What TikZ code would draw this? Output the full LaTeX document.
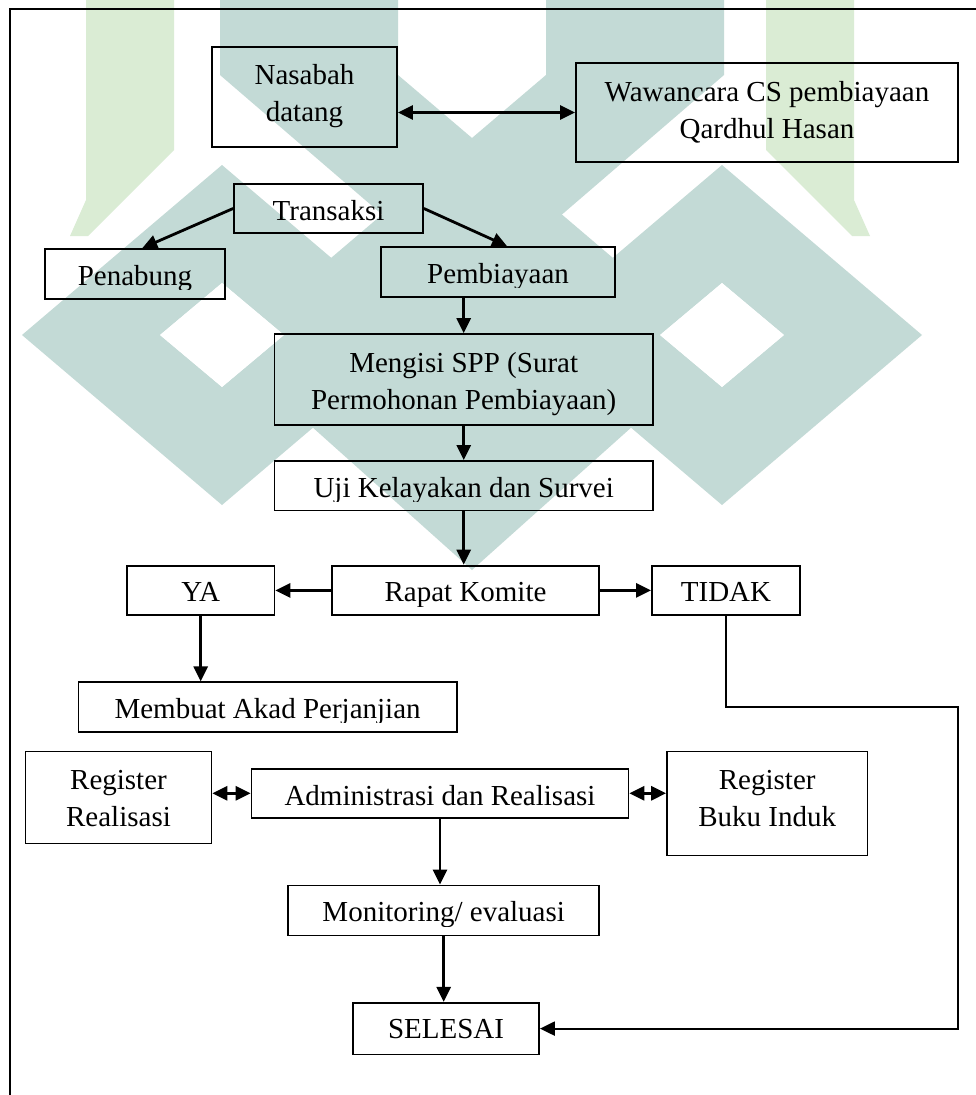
\documentclass[tikz,border=0pt]{standalone}
\usepackage{fontspec}
\setmainfont{Liberation Serif}
\usetikzlibrary{arrows.meta,calc}
\definecolor{wmteal}{RGB}{195,218,214}
\definecolor{wmgreen}{RGB}{218,236,212}
\newcommand{\boxlabel}[3]{%
  \begin{scope}
    \clip ($(#1.south west)+(0pt,10pt)$) rectangle (#1.north east);
    \node[txt, anchor=base] (#2) at ($(#1.north)+(0pt,-37pt)$) {#3};
  \end{scope}}
\begin{document}
\begin{tikzpicture}[x=1pt,y=-1pt,
  box/.style={draw, line width=1.8pt, inner sep=0pt},
  txt/.style={font=\fontsize{29pt}{37pt}\selectfont, inner sep=0pt},
  arr/.style={line width=2.8pt, -{Triangle[length=15pt,width=14pt]}},
  darr/.style={line width=2.8pt, {Triangle[length=15pt,width=14pt]}-{Triangle[length=15pt,width=14pt]}},
  frame/.style={line width=2.2pt},
  wmt/.style={fill=wmteal, draw=none},
  wmg/.style={fill=wmgreen, draw=none}]
\useasboundingbox (0,0) rectangle (976,1095);
\fill[white] (0,0) rectangle (976,1095);

% faint background watermark
\fill[wmg] (86,0) -- (174,0) -- (174,150) -- (88,236) -- (70,236) -- (86,200) -- cycle;
\fill[wmg] (854,0) -- (766,0) -- (766,150) -- (852,236) -- (870,236) -- (854,200) -- cycle;
\fill[wmt] (220,0) -- (398,0) -- (398,75) -- (640,281) -- (522,335) -- (220,75) -- cycle;
\fill[wmt] (724,0) -- (546,0) -- (546,75) -- (304,281) -- (422,335) -- (724,75) -- cycle;
\fill[wmt] (282,400) -- (472,230) -- (662,400) -- (472,570) -- cycle;
\fill[wmt, even odd rule] (22,335) -- (222,165) -- (422,335) -- (222,505) -- cycle
  (160,335) -- (222,283) -- (284,335) -- (222,387) -- cycle;
\fill[wmt, even odd rule] (522,335) -- (722,165) -- (922,335) -- (722,505) -- cycle
  (660,335) -- (722,283) -- (784,335) -- (722,387) -- cycle;
\fill[white] (160,335) -- (222,283) -- (284,335) -- (222,387) -- cycle;
\fill[white] (660,335) -- (722,283) -- (784,335) -- (722,387) -- cycle;

% outer frame
\draw[frame] (10,1100) -- (10,9) -- (980,9);

% boxes
\node[box, minimum width=185pt, minimum height=100pt] (nas) at (304.5,97) {};
\node[box, minimum width=382pt, minimum height=99pt] (waw) at (767,112.5) {};
\node[box, minimum width=189pt, minimum height=49pt] (trans) at (328.5,208.5) {};
\node[box, minimum width=180pt, minimum height=50pt] (pen) at (135,274) {};
\node[box, minimum width=234pt, minimum height=50pt] (pemb) at (498,272) {};
\node[box, minimum width=378.5pt, minimum height=91pt] (spp) at (463.7,379.5) {};
\node[box, minimum width=378.5pt, minimum height=49.5pt] (uji) at (463.7,485.7) {};
\node[box, minimum width=267.6pt, minimum height=49.6pt] (rapat) at (465.5,590.4) {};
\node[box, minimum width=147.4pt, minimum height=49.6pt] (ya) at (200.7,590.4) {};
\node[box, minimum width=148pt, minimum height=49.6pt] (tidak) at (726,590.4) {};
\node[box, minimum width=378.4pt, minimum height=49.5pt] (akad) at (267.6,707) {};
\node[box, minimum width=186pt, minimum height=92pt] (regr) at (118.5,797.5) {};
\node[box, minimum width=377pt, minimum height=48.7pt] (admin) at (440,793.3) {};
\node[box, minimum width=200.5pt, minimum height=104pt] (regb) at (767.2,803.4) {};
\node[box, minimum width=311.3pt, minimum height=50pt] (mon) at (443.7,910.5) {};
\node[box, minimum width=186pt, minimum height=51.7pt] (sel) at (446,1028.6) {};

% two-line texts
\node[txt, anchor=base] (nas-t1) at (304.5,84) {Nasabah};
\node[txt, anchor=base] (nas-t2) at (304.5,121) {datang};
\node[txt, anchor=base] (waw-t1) at (767,101) {Wawancara CS pembiayaan};
\node[txt, anchor=base] (waw-t2) at (767,138) {Qardhul Hasan};
\node[txt, anchor=base] (spp-t1) at (463.7,372) {Mengisi SPP (Surat};
\node[txt, anchor=base] (spp-t2) at (463.7,409) {Permohonan Pembiayaan)};
\node[txt, anchor=base] (regr-t1) at (118.5,789) {Register};
\node[txt, anchor=base] (regr-t2) at (118.5,826) {Realisasi};
\node[txt, anchor=base] (regb-t1) at (767.2,789) {Register};
\node[txt, anchor=base] (regb-t2) at (767.2,826) {Buku Induk};

% one-line texts, clipped like the original text boxes
\boxlabel{trans}{trans-t}{Transaksi}
\boxlabel{pen}{pen-t}{Penabung}
\boxlabel{pemb}{pemb-t}{Pembiayaan}
\boxlabel{uji}{uji-t}{Uji Kelayakan dan Survei}
\boxlabel{rapat}{rapat-t}{Rapat Komite}
\boxlabel{ya}{ya-t}{YA}
\boxlabel{tidak}{tidak-t}{TIDAK}
\boxlabel{akad}{akad-t}{Membuat Akad Perjanjian}
\boxlabel{admin}{admin-t}{Administrasi dan Realisasi}
\boxlabel{mon}{mon-t}{Monitoring/ evaluasi}
\boxlabel{sel}{sel-t}{SELESAI}

% connectors
\coordinate (c1) at (958.3,706.7);
\draw[darr] (nas.east |- waw.west) -- (waw.west);
\draw[arr] (trans.west) -- ($(pen.north west)!0.54!(pen.north east)$);
\draw[arr] (trans.east) -- ($(pemb.north)+(9pt,0pt)$);
\draw[arr] (spp.north |- pemb.south) -- (spp.north);
\draw[arr] (spp.south) -- (uji.north);
\draw[arr] (uji.south) -- (uji.south |- rapat.north);
\draw[arr] (rapat.west) -- (ya.east);
\draw[arr] (rapat.east) -- (tidak.west);
\draw[arr] (ya.south) -- (ya.south |- akad.north);
\draw[arr, line width=2.2pt] (tidak.south) |- (c1) |- (sel.east);
\draw[darr] (regr.east |- admin.west) -- (admin.west);
\draw[darr] (admin.east) -- (regb.west |- admin.east);
\draw[arr] (admin.south) -- (admin.south |- mon.north);
\draw[arr] (mon.south) -- (mon.south |- sel.north);
\end{tikzpicture}
\end{document}
